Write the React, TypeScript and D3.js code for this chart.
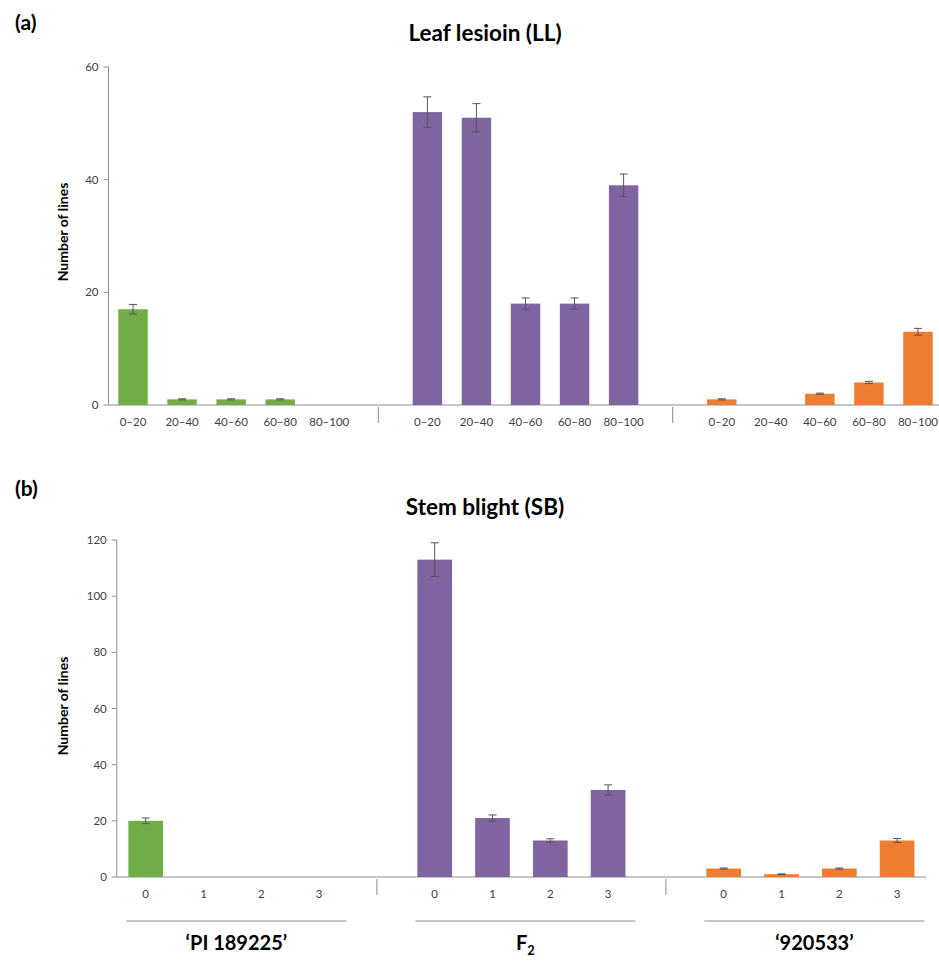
import React, { useEffect, useRef } from 'react';
import * as d3 from 'd3';

// categories
const llBins = ['0–20', '20–40', '40–60', '60–80', '80–100'];
const sbScores = ['0', '1', '2', '3'];
const groupKeys = ['PI', 'F2', '920533'];
const groupColors = ['#70AD47', '#8064A2', '#ED7D31'];

// leaf lesion (LL) values + error
const llPI = [17, 1, 1, 1, 0];
const llPIErr = [0.85, 0.1, 0.1, 0.1, 0];
const llF2 = [52, 51, 18, 18, 39];
const llF2Err = [2.7, 2.5, 1, 1, 2];
const ll920 = [1, 0, 2, 4, 13];
const ll920Err = [0.1, 0, 0.1, 0.2, 0.6];

// stem blight (SB) values + error
const sbPI = [20, 0, 0, 0];
const sbPIErr = [1, 0, 0, 0];
const sbF2 = [113, 21, 13, 31];
const sbF2Err = [6, 1.1, 0.6, 1.8];
const sb920 = [3, 1, 3, 13];
const sb920Err = [0.2, 0.1, 0.2, 0.7];

const llTicks = [0, 20, 40, 60];
const sbTicks = [0, 20, 40, 60, 80, 100, 120];

const FONT = 'Lato, "Open Sans", sans-serif';
const AXIS = '#8c8c8c';

function drawPanel(svg, o) {
  const { cats, series, errs, yMax, ticks, x0, x1, yTop, yBottom } = o;
  // slot keys: group cats + one blank slot between groups
  const keys = [];
  groupKeys.forEach((g, gi) => {
    cats.forEach(c => keys.push(g + '|' + c));
    if (gi < groupKeys.length - 1) keys.push('gap' + gi);
  });
  const x = d3.scaleBand().domain(keys).range([x0, x1]).paddingInner(0.4).paddingOuter(0.2);
  const y = d3.scaleLinear().domain([0, yMax]).range([yBottom, yTop]);

  const g = svg.append('g');

  // y axis
  g.append('line').attr('x1', x0).attr('x2', x0).attr('y1', y(yMax)).attr('y2', y(0))
    .attr('stroke', AXIS);
  ticks.forEach(t => {
    g.append('line').attr('x1', x0 - 5).attr('x2', x0).attr('y1', y(t)).attr('y2', y(t))
      .attr('stroke', AXIS);
    g.append('text').attr('x', x0 - 10).attr('y', y(t)).attr('dy', '0.35em')
      .attr('text-anchor', 'end').attr('font-size', 11.5).attr('fill', '#404040')
      .attr('font-family', FONT).text(t);
  });

  // x axis
  g.append('line').attr('x1', x0).attr('x2', x1).attr('y1', y(0)).attr('y2', y(0))
    .attr('stroke', AXIS);

  groupKeys.forEach((gk, gi) => {
    cats.forEach((c, i) => {
      const k = gk + '|' + c;
      const v = series[gi][i];
      const e = errs[gi][i];
      const cx = x(k) + x.bandwidth() / 2;
      if (v > 0) {
        g.append('rect').attr('x', x(k)).attr('width', x.bandwidth())
          .attr('y', y(v)).attr('height', y(0) - y(v)).attr('fill', groupColors[gi]);
      }
      if (e > 0) {
        const eb = g.append('g').attr('stroke', '#555').attr('stroke-width', 1);
        eb.append('line').attr('x1', cx).attr('x2', cx).attr('y1', y(v + e)).attr('y2', y(v - e));
        eb.append('line').attr('x1', cx - 4).attr('x2', cx + 4).attr('y1', y(v + e)).attr('y2', y(v + e));
        eb.append('line').attr('x1', cx - 4).attr('x2', cx + 4).attr('y1', y(v - e)).attr('y2', y(v - e));
      }
      g.append('text').attr('x', cx).attr('y', y(0) + 17).attr('dy', '0.35em')
        .attr('text-anchor', 'middle').attr('font-size', 11.5).attr('fill', '#404040')
        .attr('font-family', FONT).text(c);
    });
    if (gi < groupKeys.length - 1) {
      const sx = x('gap' + gi) + x.bandwidth() / 2;
      g.append('line').attr('x1', sx).attr('x2', sx).attr('y1', y(0) + 2).attr('y2', y(0) + 18)
        .attr('stroke', AXIS);
    }
  });

  return { x, y };
}

export default function App() {
  const ref = useRef(null);

  useEffect(() => {
    document.body.style.margin = '0';
    const svg = d3.select(ref.current);
    svg.selectAll('*').remove();

    // (a) Leaf lesion
    svg.append('text').attr('x', 15).attr('y', 30).attr('font-family', FONT)
      .attr('font-weight', 'bold').attr('font-size', 21).text('(a)');
    svg.append('text').attr('x', 485).attr('y', 41).attr('text-anchor', 'middle')
      .attr('font-family', FONT).attr('font-weight', 'bold').attr('font-size', 22.5)
      .text('Leaf lesioin (LL)');
    svg.append('text').attr('transform', 'translate(68,232) rotate(-90)')
      .attr('text-anchor', 'middle').attr('font-family', FONT).attr('font-weight', 'bold')
      .attr('font-size', 14).text('Number of lines');

    drawPanel(svg, {
      cats: llBins,
      series: [llPI, llF2, ll920],
      errs: [llPIErr, llF2Err, ll920Err],
      yMax: 60, ticks: llTicks,
      x0: 108.5, x1: 942.5, yTop: 67, yBottom: 405,
    });

    // (b) Stem blight
    svg.append('text').attr('x', 15).attr('y', 496).attr('font-family', FONT)
      .attr('font-weight', 'bold').attr('font-size', 21).text('(b)');
    svg.append('text').attr('x', 485).attr('y', 515).attr('text-anchor', 'middle')
      .attr('font-family', FONT).attr('font-weight', 'bold').attr('font-size', 22.5)
      .text('Stem blight (SB)');
    svg.append('text').attr('transform', 'translate(68,706) rotate(-90)')
      .attr('text-anchor', 'middle').attr('font-family', FONT).attr('font-weight', 'bold')
      .attr('font-size', 14).text('Number of lines');

    const sb = drawPanel(svg, {
      cats: sbScores,
      series: [sbPI, sbF2, sb920],
      errs: [sbPIErr, sbF2Err, sb920Err],
      yMax: 120, ticks: sbTicks,
      x0: 116.8, x1: 926, yTop: 540, yBottom: 877,
    });

    // group labels under bottom panel
    groupKeys.forEach(gk => {
      const first = sb.x(gk + '|' + sbScores[0]);
      const last = sb.x(gk + '|' + sbScores[sbScores.length - 1]) + sb.x.bandwidth();
      const cx = (first + last) / 2 + 4;
      svg.append('line').attr('x1', cx - 110).attr('x2', cx + 110).attr('y1', 921).attr('y2', 921)
        .attr('stroke', '#8c8c8c');
      const t = svg.append('text').attr('x', cx).attr('y', 950).attr('text-anchor', 'middle')
        .attr('font-family', FONT).attr('font-weight', 'bold').attr('font-size', 20);
      if (gk === 'F2') {
        t.append('tspan').text('F');
        t.append('tspan').attr('font-size', 13).attr('dy', 5).text('2');
      } else {
        t.text('‘' + (gk === 'PI' ? 'PI 189225' : gk) + '’');
      }
    });
  }, []);

  return <svg ref={ref} width={939} height={965} style={{ display: 'block', background: '#fff' }} />;
}
